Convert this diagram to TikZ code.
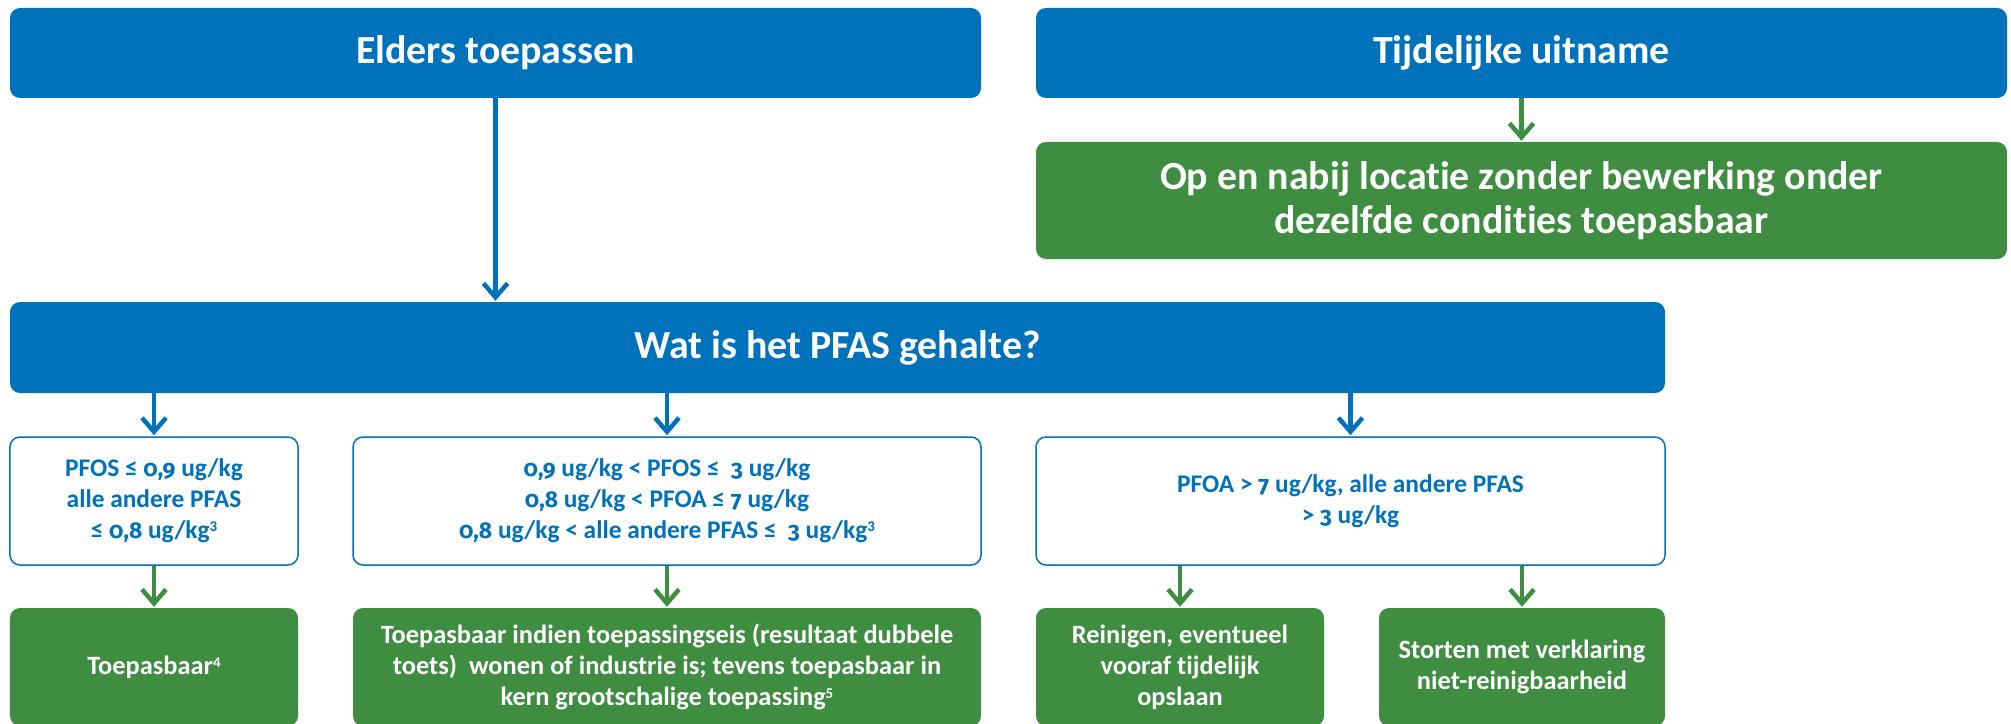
\documentclass[tikz,border=0pt]{standalone}
\usepackage{fontspec}
\setmainfont{Carlito}[Ligatures=NoCommon]
\newfontfamily\numfont{Fira Sans}[Numbers=OldStyle]
\usetikzlibrary{arrows.meta}
\definecolor{rblue}{RGB}{0,113,187}
\definecolor{rgreen}{RGB}{62,141,65}
\newcommand{\supr}[1]{\raisebox{0.55ex}{\fontsize{15}{15}\selectfont #1}}
\newcommand{\dg}[1]{{\numfont\fontsize{23}{31}\selectfont #1}}
\tikzset{
  box/.style={rounded corners=10bp, align=center, inner sep=0pt, anchor=center},
  bluebox/.style={box, fill=rblue, text=white, font=\bfseries\fontsize{40}{46}\selectfont},
  greenbig/.style={box, fill=rgreen, text=white, font=\bfseries\fontsize{40}{44}\selectfont},
  cond/.style={box, draw=rblue, line width=1.5bp, fill=white, text=rblue, font=\bfseries\fontsize{25.5}{31}\selectfont},
  gsmall/.style={box, fill=rgreen, text=white, font=\bfseries\fontsize{26.5}{31}\selectfont},
  barrow/.style={draw=rblue, line width=4.5bp, -{Straight Barb[length=14bp,width=24bp]}, shorten >=1bp},
  garrow/.style={draw=rgreen, line width=4.5bp, -{Straight Barb[length=14bp,width=24bp]}, shorten >=1bp}
}
\begin{document}
\begin{tikzpicture}[x=1bp, y=-1bp]
\useasboundingbox (0,0) rectangle (2011,724);
% top row
\node[bluebox, minimum width=971bp, minimum height=90bp] (elders) at (495.5,53) {Elders toepassen};
\node[bluebox, minimum width=971bp, minimum height=90bp] (tijd) at (1521.5,53) {Tijdelijke uitname};
\node[greenbig, minimum width=971bp, minimum height=117bp] (opnabij) at (1521.5,200.5) {Op en nabij locatie zonder bewerking onder\\dezelfde condities toepasbaar};
% question
\node[bluebox, minimum width=1655bp, minimum height=91bp] (wat) at (837.5,347.5) {Wat is het PFAS gehalte?};
% conditions
\node[cond, minimum width=288bp, minimum height=128bp] (c1) at (154,501) {PFOS ≤ \dg{0,9} ug/kg\\alle andere PFAS\\≤ \dg{0,8} ug/kg\supr{3}};
\node[cond, minimum width=628bp, minimum height=128bp] (c2) at (667,501) {\dg{0,9} ug/kg < PFOS ≤\ \ \dg{3} ug/kg\\\dg{0,8} ug/kg < PFOA ≤ \dg{7} ug/kg\\\dg{0,8} ug/kg < alle andere PFAS ≤\ \ \dg{3} ug/kg\supr{3}};
\node[cond, minimum width=629bp, minimum height=128bp] (c3) at (1350.5,501) {PFOA > \dg{7} ug/kg, alle andere PFAS\\> \dg{3} ug/kg};
% outcomes
\node[gsmall, minimum width=288bp, minimum height=118bp] (g1) at (154,667) {Toepasbaar\supr{4}};
\node[gsmall, minimum width=628bp, minimum height=118bp] (g2) at (667,667) {Toepasbaar indien toepassingseis (resultaat dubbele\\toets)\ \ wonen of industrie is; tevens toepasbaar in\\kern grootschalige toepassing\supr{5}};
\node[gsmall, minimum width=288bp, minimum height=118bp] (g3) at (1180,667) {Reinigen, eventueel\\vooraf tijdelijk\\opslaan};
\node[gsmall, minimum width=286bp, minimum height=118bp] (g4) at (1522,667) {Storten met verklaring\\niet-reinigbaarheid};
% connectors
\draw[barrow] (elders.south) -- (wat.north -| elders.south);
\draw[garrow] (tijd.south) -- (opnabij.north);
\draw[barrow] (wat.south -| c1.north) -- (c1.north);
\draw[barrow] (wat.south -| c2.north) -- (c2.north);
\draw[barrow] (wat.south -| c3.north) -- (c3.north);
\draw[garrow] (c1.south) -- (g1.north);
\draw[garrow] (c2.south) -- (g2.north);
\draw[garrow] (c3.south -| g3.north) -- (g3.north);
\draw[garrow] (c3.south -| g4.north) -- (g4.north);
\end{tikzpicture}
\end{document}
